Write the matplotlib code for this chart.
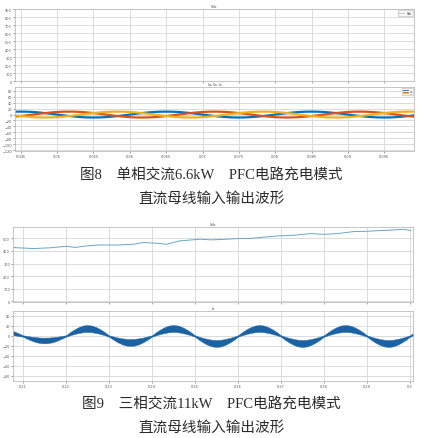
import matplotlib.pyplot as plt
import numpy as np

# ---- figure 8: single phase 6.6kW, t in s (1 ms samples) ----
t8 = np.round(np.arange(0.044, 0.0995, 0.001), 3)
ia8 = [9.5, 10, 9.5, 8.1, 5.9, 3.1, 0, -3.1, -5.9, -8.1, -9.5, -10, -9.5, -8.1, -5.9, -3.1, 0, 3.1, 5.9, 8.1,
       9.5, 10, 9.5, 8.1, 5.9, 3.1, 0, -3.1, -5.9, -8.1, -9.5, -10, -9.5, -8.1, -5.9, -3.1, 0, 3.1, 5.9, 8.1,
       9.5, 10, 9.5, 8.1, 5.9, 3.1, 0, -3.1, -5.9, -8.1, -9.5, -10, -9.5, -8.1, -5.9, -3.1]
ib8 = [-7.4, -5.0, -2.1, 1.0, 4.1, 6.7, 8.7, 9.8, 9.9, 9.1, 7.4, 5.0, 2.1, -1.0, -4.1, -6.7, -8.7, -9.8, -9.9, -9.1,
       -7.4, -5.0, -2.1, 1.0, 4.1, 6.7, 8.7, 9.8, 9.9, 9.1, 7.4, 5.0, 2.1, -1.0, -4.1, -6.7, -8.7, -9.8, -9.9, -9.1,
       -7.4, -5.0, -2.1, 1.0, 4.1, 6.7, 8.7, 9.8, 9.9, 9.1, 7.4, 5.0, 2.1, -1.0, -4.1, -6.7]
ic8 = [-2.1, -5.0, -7.4, -9.1, -9.9, -9.8, -8.7, -6.7, -4.1, -1.0, 2.1, 5.0, 7.4, 9.1, 9.9, 9.8, 8.7, 6.7, 4.1, 1.0,
       -2.1, -5.0, -7.4, -9.1, -9.9, -9.8, -8.7, -6.7, -4.1, -1.0, 2.1, 5.0, 7.4, 9.1, 9.9, 9.8, 8.7, 6.7, 4.1, 1.0,
       -2.1, -5.0, -7.4, -9.1, -9.9, -9.8, -8.7, -6.7, -4.1, -1.0, 2.1, 5.0, 7.4, 9.1, 9.9, 9.8]
vdc8_t = [0.044, 0.0995]
vdc8 = [0, 0]
xt8 = [0.045, 0.05, 0.055, 0.06, 0.065, 0.07, 0.075, 0.08, 0.085, 0.09, 0.095]
xt8_labels = ["0.045", "0.05", "0.055", "0.06", "0.065", "0.07", "0.075", "0.08", "0.085", "0.09", "0.095"]

# ---- figure 9: three phase 11kW ----
vdc9_t = [0.20775, 0.2124, 0.2163, 0.2202, 0.2221, 0.2248, 0.2279, 0.2318, 0.2357, 0.2380, 0.2419, 0.2434,
          0.2465, 0.2512, 0.2537, 0.2568, 0.2599, 0.2630, 0.2661, 0.2692, 0.2731, 0.2770, 0.2801, 0.2832,
          0.2870, 0.2902, 0.2925, 0.2956, 0.2987, 0.3002]
vdc9 = [427, 419, 425, 437, 428, 440, 448, 447, 453, 467, 459, 453,
        480, 493, 488, 492, 498, 500, 510, 519, 525, 538, 532, 538,
        554, 556, 561, 565, 572, 561]
t9 = np.round(np.arange(0.207, 0.3015, 0.001), 3)
ia9_upper = [12, 9, 5.5,
             1.5, 0, -1.3, -2.3, -3.1, -3.2, -3.1, -2.3, -1.3, 0,
             1.5, 8, 13.5, 18, 21, 22, 21, 18, 13.5, 8,
             1.5, -0.8, -3, -4.5, -5.7, -6, -5.7, -4.5, -3, -0.8,
             1.5, 8, 13.5, 18, 21, 22, 21, 18, 13.5, 8,
             1.5, -1.5, -4, -6, -7.5, -8, -7.5, -6, -4, -1.5,
             1.5, 8, 13.5, 18, 21, 22, 21, 18, 13.5, 8,
             1.5, -1.5, -4, -6, -7.5, -8, -7.5, -6, -4, -1.5,
             1.5, 8, 13.5, 18, 21, 22, 21, 18, 13.5, 8,
             1.5, -1.5, -4, -6, -7.5, -8, -7.5, -6, -4, -1.5,
             1.5, 8]
ia9_lower = [2.3, 1.3, 0,
             -1.5, -5.6, -9.3, -12.3, -14.1, -14.8, -14.1, -12.3, -9.3, -5.6,
             -1.5, 1.5, 4, 6, 7.5, 8, 7.5, 6, 4, 1.5,
             -1.5, -7.2, -12.4, -16.5, -19.1, -20, -19.1, -16.5, -12.4, -7.2,
             -1.5, 1.5, 4, 6, 7.5, 8, 7.5, 6, 4, 1.5,
             -1.5, -8, -13.5, -18, -21, -22, -21, -18, -13.5, -8,
             -1.5, 1.5, 4, 6, 7.5, 8, 7.5, 6, 4, 1.5,
             -1.5, -8, -13.5, -18, -21, -22, -21, -18, -13.5, -8,
             -1.5, 1.5, 4, 6, 7.5, 8, 7.5, 6, 4, 1.5,
             -1.5, -8, -13.5, -18, -21, -22, -21, -18, -13.5, -8,
             -1.5, 1.5]
xt9 = [0.21, 0.22, 0.23, 0.24, 0.25, 0.26, 0.27, 0.28, 0.29, 0.30]
xt9_labels = ["0.21", "0.22", "0.23", "0.24", "0.25", "0.26", "0.27", "0.28", "0.29", "0.3"]

cap8 = ["图8\u3000单相交流6.6kW\u3000PFC电路充电模式", "直流母线输入输出波形"]
cap9 = ["图9\u3000三相交流11kW\u3000PFC电路充电模式", "直流母线输入输出波形"]

W, H = 423, 439
fig = plt.figure(figsize=(W / 100, H / 100), dpi=100)


def make_ax(x0, y0, x1, y1):
    """axes from pixel box (top-left origin)"""
    ax = fig.add_axes([x0 / W, 1 - y1 / H, (x1 - x0) / W, (y1 - y0) / H])
    ax.grid(True, color="#d6d6d6", linewidth=0.6)
    ax.set_axisbelow(True)
    for s in ax.spines.values():
        s.set_color("#bdbdbd")
        s.set_linewidth(0.6)
    ax.tick_params(labelsize=2.5, length=1.2, width=0.4, colors="#555555", pad=1)
    return ax


# figure 8 upper
ax = make_ax(15, 10, 414, 82)
ax.plot(vdc8_t, vdc8, color="#c8c8c8", linewidth=0.8, label="Vdc")
ax.set_xlim(0.0442, 0.0991)
ax.set_ylim(0, 905)
ax.set_yticks(range(0, 901, 100))
ax.set_xticks(xt8)
ax.set_xticklabels([])
ax.set_title("Vdc", fontsize=2.5, pad=1.5, color="#444444")
ax.legend(loc="upper right", fontsize=2, handlelength=2, frameon=True, borderpad=0.3)

# figure 8 lower
ax = make_ax(15, 88, 414, 152)
ax.plot(t8, ia8, color="#0072bd", linewidth=1.6, label="Ia")
ax.plot(t8, ib8, color="#d95319", linewidth=1.6, label="Ib")
ax.plot(t8, ic8, color="#edb120", linewidth=1.6, label="Ic")
ax.set_xlim(0.0442, 0.0991)
ax.set_ylim(-123, 93)
ax.set_yticks(range(-120, 81, 20))
ax.set_xticks(xt8)
ax.set_xticklabels(xt8_labels)
ax.set_title("Ia, Ib, Ic", fontsize=2.5, pad=1.5, color="#444444")
leg = ax.legend(loc="upper right", fontsize=1.6, handlelength=2.5, frameon=True, borderpad=0.4,
                labelspacing=0.1)
for h in leg.get_lines():
    h.set_linewidth(0.6)

for i, line in enumerate(cap8):
    fig.text(0.5, 1 - (176 + 23 * i) / H, line, ha="center", va="center", fontsize=10.5,
             color="#2b2b2b", family=["Liberation Serif", "Noto Sans CJK SC"])

# figure 9 upper
ax = make_ax(13, 228, 413, 303)
ax.plot(vdc9_t, vdc9, color="#6aa6c8", linewidth=0.7)
ax.set_xlim(0.2077, 0.3007)
ax.set_ylim(-5, 590)
ax.set_yticks(range(0, 501, 100))
ax.set_xticks(xt9)
ax.set_xticklabels([])
ax.set_title("Vdc", fontsize=2.5, pad=1.5, color="#444444")

# figure 9 lower
ax = make_ax(13, 312, 413, 382)
ax.fill_between(t9, ia9_lower, ia9_upper, color="#1b62a3", linewidth=0.3, edgecolor="#2a70b0")
ax.set_xlim(0.2077, 0.3007)
ax.set_ylim(-90, 50)
ax.set_yticks(range(-80, 41, 20))
ax.set_xticks(xt9)
ax.set_xticklabels(xt9_labels)
ax.set_title("Ia", fontsize=2.5, pad=1.5, color="#444444")

for i, line in enumerate(cap9):
    fig.text(0.5, 1 - (405 + 23 * i) / H, line, ha="center", va="center", fontsize=10.5,
             color="#2b2b2b", family=["Liberation Serif", "Noto Sans CJK SC"])

fig.savefig("out.png", dpi=100, facecolor="white")
